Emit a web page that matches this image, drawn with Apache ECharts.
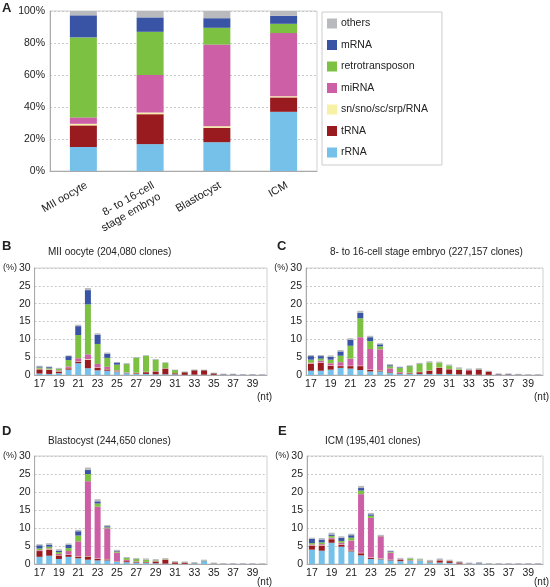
<!DOCTYPE html>
<html><head><meta charset="utf-8">
<script src="https://cdn.jsdelivr.net/npm/echarts@6/dist/echarts.min.js"></script>
<style>html,body{margin:0;padding:0;background:#fff}#c{width:550px;height:587px}</style>
</head><body><div id="c"></div>
<script>
// ---------- DATA ----------
const typeNames = ['rRNA','tRNA','sn/sno/sc/srp/RNA','miRNA','retrotransposon','mRNA','others'];
const legendOrder = ['others','mRNA','retrotransposon','miRNA','sn/sno/sc/srp/RNA','tRNA','rRNA'];
const stages = ['MII oocyte','8- to 16-cell\nstage embryo','Blastocyst','ICM'];
const percentTicks = [0,20,40,60,80,100];
const lengths = ['17','18','19','20','21','22','23','24','25','26','27','28','29','30','31','32','33','34','35','36','37','38','39','40'];

// Panel A (% composition)
const A_rRNA   = [15, 16.8, 18, 37];
const A_tRNA   = [13.5, 18.7, 9, 9];
const A_sn     = [1, 1, 1, 0.7];
const A_miRNA  = [4, 23.5, 51, 39.5];
const A_retro  = [50, 27, 10.5, 5.8];
const A_mRNA   = [13.8, 9, 6, 5];
const A_others = [2.7, 4, 4.5, 3];

// Panel B: MII oocyte (204,080 clones)
const B_rRNA   = [0.4,0.3,0.5,1.5,3.3,1.9,1.3,1.2,0.8,0.5,0.3,0.3,0.2,0.2,0.2,0.05,0.1,0.1,0.05,0.05,0.05,0.05,0.05,0.05];
const B_tRNA   = [1.2,1.1,0.5,0.4,0.5,2.3,0.7,0.4,0.2,0.1,0.2,0.5,0.8,1.6,0.3,0.7,1.2,1.2,0.4,0.05,0.05,0.02,0.02,0.02];
const B_sn     = [0.1,0.1,0.1,0.1,0.1,0.2,0.1,0.1,0.1,0.05,0.05,0.05,0.05,0.05,0.05,0,0,0,0,0,0,0,0,0];
const B_miRNA  = [0.1,0.1,0.2,0.4,0.8,1.4,1.0,0.6,0.2,0.1,0.1,0.05,0.05,0.05,0,0,0,0,0,0,0,0,0,0];
const B_retro  = [0.3,0.3,0.4,1.8,6.5,14.0,5.6,2.5,1.6,2.3,4.2,4.5,3.2,1.5,0.8,0.05,0.05,0.05,0.05,0,0,0,0,0];
const B_mRNA   = [0.3,0.3,0.1,1.1,2.5,4.0,2.6,1.2,0.6,0.1,0.05,0.05,0.05,0.05,0.05,0.05,0.05,0.05,0.05,0.12,0.12,0.08,0.08,0.05];
const B_others = [0.2,0.2,0.2,0.2,0.4,0.6,0.4,0.3,0.1,0.2,0.15,0.1,0.1,0.1,0.1,0.15,0.15,0.1,0.1,0.15,0.15,0.1,0.1,0.08];

// Panel C: 8- to 16-cell stage embryo (227,157 clones)
const C_rRNA   = [1.2,1.2,1.5,2.0,1.8,1.4,1.0,1.0,0.6,0.4,0.3,0.3,0.3,0.3,0.3,0.2,0.1,0.1,0.05,0.05,0.05,0.05,0.02,0.02];
const C_tRNA   = [2.0,2.2,1.1,0.5,0.7,1.1,0.4,0.3,0.2,0.2,0.2,0.5,0.9,1.7,1.3,1.2,1.2,1.4,0.9,0.1,0.1,0.05,0.02,0.02];
const C_sn     = [0.1,0.1,0.1,0.1,0.1,0.1,0.1,0.1,0.05,0.05,0.05,0.05,0.05,0.05,0.05,0.05,0,0,0,0,0,0,0,0];
const C_miRNA  = [0.2,0.5,0.6,1.0,2.0,8.0,5.8,5.8,1.0,0.2,0.1,0.05,0.05,0.05,0.05,0.05,0.1,0,0,0,0,0,0,0];
const C_retro  = [0.8,0.6,1.0,1.8,3.6,5.3,2.2,0.8,0.6,1.1,1.8,2.2,2.2,1.3,0.9,0.3,0.05,0.05,0,0,0,0,0,0];
const C_mRNA   = [1.0,0.7,0.8,1.2,1.7,1.5,1.1,0.6,0.3,0.2,0.1,0.1,0.05,0.05,0.05,0.05,0.05,0.05,0.05,0.1,0.1,0.08,0.06,0.06];
const C_others = [0.3,0.3,0.4,0.4,0.4,0.6,0.4,0.3,0.3,0.2,0.2,0.2,0.3,0.3,0.3,0.3,0.3,0.3,0.2,0.2,0.2,0.15,0.12,0.1];

// Panel D: Blastocyst (244,650 clones)
const D_rRNA   = [2.0,2.3,1.4,2.0,1.6,1.2,1.0,1.0,0.6,0.5,0.4,0.3,0.2,0.1,0.05,0.05,0.2,0.8,0.05,0.02,0.02,0.02,0.02,0.02];
const D_tRNA   = [1.6,1.7,1.0,0.5,0.5,0.9,0.4,0.3,0.1,0.3,0.2,0.2,0.5,1.1,0.4,0.3,0.05,0.05,0.05,0.02,0.02,0.02,0.02,0.02];
const D_sn     = [0.1,0.1,0.1,0.1,0.1,0.1,0.1,0.1,0.05,0.05,0.05,0.05,0.05,0.05,0,0,0,0,0,0,0,0,0,0];
const D_miRNA  = [0.2,0.2,0.3,1.0,4.1,20.8,14.4,8.5,2.4,0.3,0.1,0.05,0.05,0.05,0.05,0.05,0,0,0,0,0,0,0,0];
const D_retro  = [0.4,0.5,0.5,0.8,1.6,2.0,0.9,0.3,0.3,0.5,0.6,0.6,0.2,0.1,0.05,0.05,0.05,0.1,0.05,0,0,0,0,0];
const D_mRNA   = [0.9,0.6,0.4,0.9,1.2,1.1,0.6,0.3,0.2,0.1,0.1,0.05,0.05,0.05,0.05,0.05,0.05,0.05,0.05,0.05,0.05,0.05,0.05,0.03];
const D_others = [0.3,0.4,0.4,0.4,0.4,0.7,0.6,0.3,0.3,0.2,0.2,0.3,0.3,0.2,0.2,0.2,0.2,0.2,0.2,0.15,0.15,0.15,0.1,0.1];

// Panel E: ICM (195,401 clones)
const E_rRNA   = [4.0,3.7,5.9,4.8,3.5,2.4,1.4,1.3,1.0,0.8,0.9,0.9,0.5,0.4,0.3,0.1,0.1,0.2,0.05,0.05,0.05,0.05,0.05,0.05];
const E_tRNA   = [1.0,1.4,1.0,0.5,0.3,0.6,0.3,0.2,0.2,0.3,0.1,0.05,0.2,0.6,0.5,0.3,0.05,0.05,0.02,0.02,0.02,0.02,0.02,0.02];
const E_sn     = [0.1,0.1,0.1,0.1,0.1,0.1,0.1,0.1,0.05,0.05,0.05,0.05,0.05,0.05,0.05,0,0,0,0,0,0,0,0,0];
const E_miRNA  = [0.3,0.3,0.3,0.5,2.6,16.3,11.0,6.1,1.9,0.2,0.05,0.05,0.05,0.05,0.05,0.05,0,0,0,0,0,0,0,0];
const E_retro  = [0.4,0.5,0.5,0.5,0.8,1.0,0.6,0.1,0.2,0.1,0.4,0.2,0.1,0.05,0.05,0.05,0,0,0,0,0,0,0,0];
const E_mRNA   = [1.2,0.8,0.4,0.9,0.7,0.7,0.4,0.1,0.2,0.05,0.05,0.05,0.05,0.1,0.05,0.05,0.05,0.1,0.05,0.05,0.05,0.05,0.05,0.05];
const E_others = [0.3,0.4,0.5,0.4,0.4,0.6,0.4,0.2,0.2,0.2,0.2,0.2,0.2,0.3,0.2,0.2,0.2,0.2,0.15,0.15,0.15,0.15,0.15,0.15];

const panelTitles = ['MII oocyte (204,080 clones)','8- to 16-cell stage embryo (227,157 clones)','Blastocyst (244,650 clones)','ICM (195,401 clones)'];
const lengthTicks = [0,5,10,15,20,25,30];

// ---------- STYLE ----------
const colors = {
  'rRNA':'#76C1E9','tRNA':'#9A1B1F','sn/sno/sc/srp/RNA':'#F6F1A4','miRNA':'#CC5FA6',
  'retrotransposon':'#7DC143','mRNA':'#3A54A5','others':'#B9BABD'
};
const FONT = '"Liberation Sans", Arial, sans-serif';
const TXT = '#222';

const panelA = [A_rRNA, A_tRNA, A_sn, A_miRNA, A_retro, A_mRNA, A_others];
const panels = [
  [B_rRNA,B_tRNA,B_sn,B_miRNA,B_retro,B_mRNA,B_others],
  [C_rRNA,C_tRNA,C_sn,C_miRNA,C_retro,C_mRNA,C_others],
  [D_rRNA,D_tRNA,D_sn,D_miRNA,D_retro,D_mRNA,D_others],
  [E_rRNA,E_tRNA,E_sn,E_miRNA,E_retro,E_mRNA,E_others]
];

const grids = [
  {left:50, right:233, top:11, bottom:416},
  {left:31, right:283, top:268, bottom:212},
  {left:306, right:7, top:268, bottom:212},
  {left:31, right:283, top:456, bottom:23},
  {left:307, right:7, top:456, bottom:23}
].map(g => Object.assign({show:true, borderColor:'#d0d0d0', borderWidth:1, backgroundColor:'transparent'}, g));

const splitLine = {show:true, lineStyle:{color:'#c8c8c8', type:[2,2], width:1}};
const axisLine = {show:true, lineStyle:{color:'#aaa'}};

const xAxes = [{
  type:'category', gridIndex:0, data:stages,
  axisLine, axisTick:{show:false},
  axisLabel:{rotate:30, fontSize:11, color:TXT, fontFamily:FONT, margin:8, interval:0, align:'right', verticalAlign:'top', lineHeight:13}
}];
const yAxes = [{
  type:'value', gridIndex:0, min:0, max:100, interval:20,
  axisLine, axisTick:{show:false}, splitLine,
  axisLabel:{formatter:'{value}%', fontSize:10.5, color:TXT, fontFamily:FONT, margin:5}
}];
for (let i=1;i<=4;i++){
  xAxes.push({
    type:'category', gridIndex:i, data:lengths,
    axisLine, axisTick:{show:false},
    axisLabel:{interval:1, fontSize:10.5, color:TXT, fontFamily:FONT, margin:4}
  });
  yAxes.push({
    type:'value', gridIndex:i, min:0, max:30, interval:5,
    axisLine, axisTick:{show:false}, splitLine,
    axisLabel:{fontSize:10.5, color:TXT, fontFamily:FONT, margin:4,
      formatter: v => v===30 ? '{p|(%)}30' : String(v),
      rich:{p:{fontSize:9, color:TXT, fontFamily:FONT, padding:[0,2,0,0]}}}
  });
}

const series = [];
typeNames.forEach((t, k) => {
  series.push({
    name:t, type:'bar', stack:'A', xAxisIndex:0, yAxisIndex:0, barWidth:27,
    data:panelA[k], itemStyle:{color:colors[t]}
  });
});
panels.forEach((p, i) => {
  typeNames.forEach((t, k) => {
    series.push({
      name:t, type:'bar', stack:'P'+i, xAxisIndex:i+1, yAxisIndex:i+1, barWidth:6,
      data:p[k], itemStyle:{color:colors[t]}
    });
  });
});

const txt = (x,y,text,opts) => ({type:'text', left:x, top:y, style:Object.assign({text, fill:TXT, font:'10px '+FONT}, opts||{})});
const graphic = [
  txt(2,2,'A',{font:'bold 13px '+FONT}),
  txt(2,240,'B',{font:'bold 13px '+FONT}),
  txt(277,240,'C',{font:'bold 13px '+FONT}),
  txt(2,425,'D',{font:'bold 13px '+FONT}),
  txt(278,425,'E',{font:'bold 13px '+FONT}),
  txt(48,247,panelTitles[0]),
  txt(330,247,panelTitles[1]),
  txt(48,436,panelTitles[2]),
  txt(325,436,panelTitles[3]),
  txt(257,392,'(nt)'),
  txt(534,392,'(nt)'),
  txt(257,577,'(nt)'),
  txt(534,577,'(nt)')
];

const chart = echarts.init(document.getElementById('c'), null, {renderer:'canvas'});
chart.setOption({
  animation:false,
  textStyle:{fontFamily:FONT},
  grid:grids, xAxis:xAxes, yAxis:yAxes, series,
  legend:{
    data:legendOrder, orient:'vertical', left:322, top:12,
    itemWidth:10, itemHeight:10, itemGap:10.5, icon:'rect',
    padding:[6,14,7,5], borderColor:'#ccc', borderWidth:1,
    textStyle:{fontSize:10.5, color:TXT, fontFamily:FONT, padding:[0,0,0,-1]}
  },
  graphic
});
</script></body></html>
